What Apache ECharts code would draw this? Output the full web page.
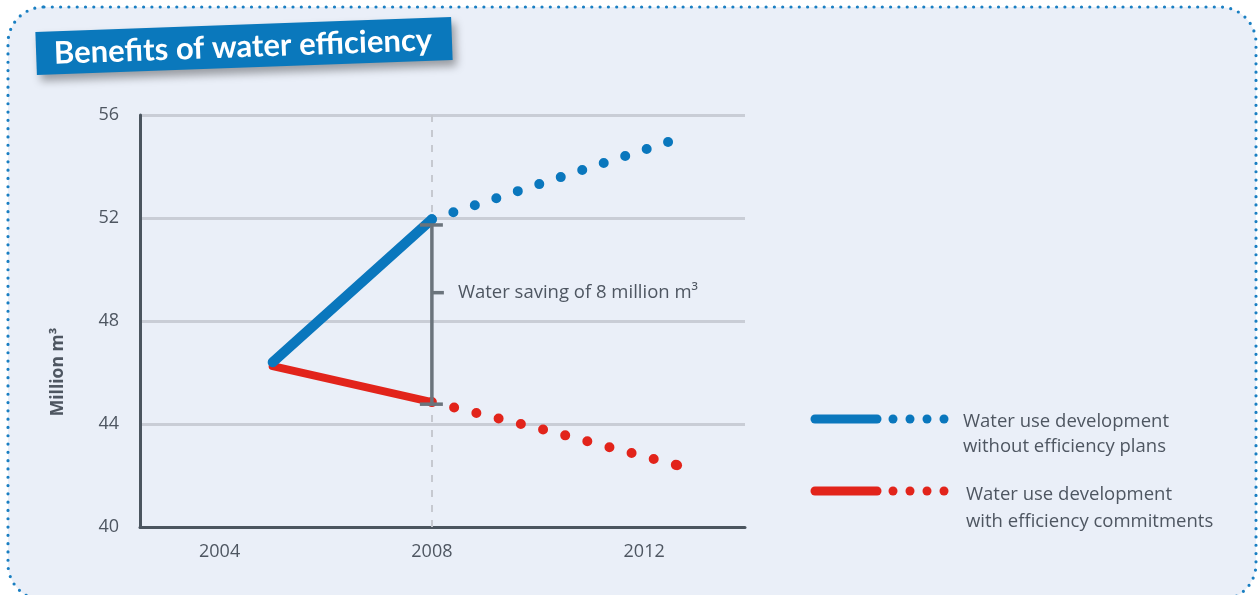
<!DOCTYPE html>
<html>
<head>
<meta charset="utf-8">
<title>Benefits of water efficiency</title>
<script src="https://cdn.jsdelivr.net/npm/echarts@6/dist/echarts.min.js"></script>
<style>
html, body {
  margin: 0;
  padding: 0;
  background: #ffffff;
}
#chart {
  width: 1258px;
  height: 595px;
}
</style>
</head>
<body>
<div id="chart"></div>
<script>
// values (year, million m3)
var yearTicks = [2004, 2008, 2012]
var blueActual = [[2005, 46.4], [2008, 51.95]]
var blueForecast = [[2008, 51.95], [2010, 53.3], [2012.45, 54.95]]
var redActual = [[2005, 46.25], [2008, 44.85]]
var redForecast = [[2008, 44.85], [2010, 43.84], [2012.62, 42.4]]
// saving bracket: year, top, bottom, label tick
var saving = [[2008, 51.73, 44.77, 49.1]]
var savingText = 'Water saving of 8 million m\u00b3'
var legendLines = [
  ['Water use development', 'without efficiency plans'],
  ['Water use development', 'with efficiency commitments']
]

var BLUE = '#0a77bd'
var RED = '#e2241b'
var TEXT = '#4e5661'
var FONT = '"Open Sans", sans-serif'

var chart = echarts.init(document.getElementById('chart'))

// dotted forecast: the dash pattern may stop short, so mark the last point too
function withEndDot (points) {
  return points.map(function (p, i) {
    if (i === points.length - 1) {
      return {value: p, symbol: 'circle', symbolSize: 10}
    }
    return p
  })
}

function legendItem (y, color, lines, textX, lh) {
  var items = [
    {
      type: 'line',
      shape: {x1: 815, y1: y, x2: 877, y2: y},
      style: {stroke: color, lineWidth: 9, lineCap: 'round'}
    }
  ]
  ;[893, 910, 927, 944].forEach(function (cx) {
    items.push({type: 'circle', shape: {cx: cx, cy: y, r: 4.5}, style: {fill: color}})
  })
  items.push({
    type: 'text',
    style: {
      text: lines[0] + '\n' + lines[1],
      x: textX,
      y: y - 10,
      font: '18.5px ' + FONT,
      lineHeight: lh,
      fill: TEXT
    }
  })
  return items
}

var graphics = [
  // panel with dotted rounded border
  {
    type: 'rect',
    z: -10,
    shape: {x: 8, y: 7, width: 1248, height: 593, r: 36},
    style: {fill: '#eaeff8', stroke: '#1a7fc2', lineWidth: 3.2, lineDash: [0, 8.3], lineCap: 'round'}
  },
  // title banner
  {
    type: 'group',
    x: 244,
    y: 46,
    rotation: 0.036,
    children: [
      {
        type: 'rect',
        shape: {x: -208, y: -21.5, width: 416, height: 43},
        style: {fill: '#0a78bc', shadowBlur: 8, shadowColor: 'rgba(0,0,0,0.35)', shadowOffsetX: 4, shadowOffsetY: 6}
      },
      {
        type: 'text',
        style: {
          text: 'Benefits of water efficiency',
          x: -1,
          y: 1,
          align: 'center',
          verticalAlign: 'middle',
          font: 'bold 31px Lato, sans-serif',
          fill: '#ffffff'
        }
      }
    ]
  },
  // y axis title
  {
    type: 'text',
    x: 58,
    y: 372,
    rotation: Math.PI / 2,
    style: {
      text: 'Million m\u00b3',
      align: 'center',
      verticalAlign: 'middle',
      font: 'bold 17.5px ' + FONT,
      fill: TEXT
    }
  }
].concat(legendItem(419, BLUE, legendLines[0], 963, 25), legendItem(491, RED, legendLines[1], 966, 27))

var option = {
  animation: false,
  backgroundColor: '#ffffff',
  graphic: graphics,
  grid: {left: 140, right: 513, top: 115, bottom: 68},
  xAxis: {
    type: 'value',
    min: 2002.5,
    max: 2013.9,
    axisLine: {lineStyle: {color: '#4b555f', width: 3}},
    axisTick: {show: false},
    splitLine: {show: false},
    axisLabel: {
      customValues: yearTicks,
      formatter: function (v) { return String(v) },
      color: TEXT,
      fontSize: 18,
      fontFamily: FONT,
      margin: 16
    }
  },
  yAxis: {
    type: 'value',
    min: 40,
    max: 56,
    interval: 4,
    axisLine: {show: true, lineStyle: {color: '#4b555f', width: 3}},
    axisTick: {show: false},
    splitLine: {lineStyle: {color: '#c9cdd6', width: 3}},
    axisLabel: {color: TEXT, fontSize: 18, fontFamily: FONT, margin: 21}
  },
  series: [
    {
      type: 'line',
      data: blueActual,
      symbol: 'none',
      z: 3,
      lineStyle: {color: BLUE, width: 10, cap: 'round'},
      markLine: {
        silent: true,
        symbol: 'none',
        label: {show: false},
        z: 1,
        lineStyle: {color: '#c6c9d0', width: 2, type: [7, 8]},
        data: [{xAxis: 2008}]
      }
    },
    {
      type: 'line',
      data: withEndDot(blueForecast),
      symbol: 'none',
      itemStyle: {color: BLUE},
      z: 3,
      lineStyle: {color: BLUE, width: 10, cap: 'round', type: [0, 22.6]}
    },
    {
      type: 'line',
      data: redActual,
      symbol: 'none',
      z: 2,
      lineStyle: {color: RED, width: 8, cap: 'round'}
    },
    {
      type: 'line',
      data: withEndDot(redForecast),
      symbol: 'none',
      itemStyle: {color: RED},
      z: 2,
      lineStyle: {color: RED, width: 10, cap: 'round', type: [0, 22.9]}
    },
    {
      type: 'custom',
      z: 5,
      data: saving,
      renderItem: function (params, api) {
        var top = api.coord([api.value(0), api.value(1)])
        var bottom = api.coord([api.value(0), api.value(2)])
        var mid = api.coord([api.value(0), api.value(3)])
        var st = {stroke: '#6b747c', lineWidth: 3.5}
        return {
          type: 'group',
          children: [
            {type: 'line', shape: {x1: top[0], y1: top[1], x2: bottom[0], y2: bottom[1]}, style: st},
            {type: 'line', shape: {x1: top[0] - 12, y1: top[1], x2: top[0] + 11, y2: top[1]}, style: st},
            {type: 'line', shape: {x1: bottom[0] - 12, y1: bottom[1], x2: bottom[0] + 11, y2: bottom[1]}, style: st},
            {type: 'line', shape: {x1: mid[0], y1: mid[1], x2: mid[0] + 12, y2: mid[1]}, style: st},
            {
              type: 'text',
              style: {
                text: savingText,
                x: mid[0] + 26,
                y: mid[1],
                verticalAlign: 'middle',
                font: '18.5px ' + FONT,
                fill: TEXT
              }
            }
          ]
        }
      }
    }
  ]
}

chart.setOption(option)
</script>
</body>
</html>
